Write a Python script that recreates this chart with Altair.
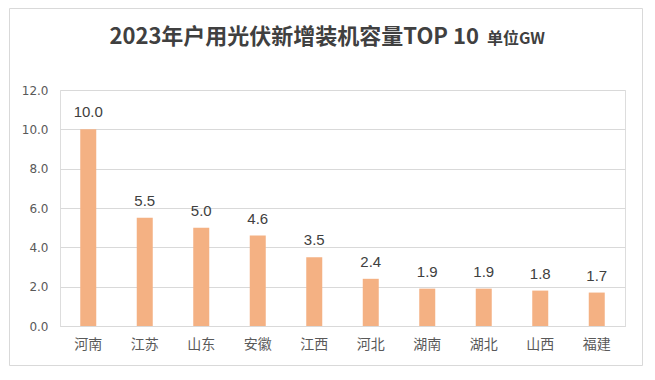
import altair as alt
import pandas as pd

provinces = ["河南", "江苏", "山东", "安徽", "江西", "河北", "湖南", "湖北", "山西", "福建"]
values = [10.0, 5.5, 5.0, 4.6, 3.5, 2.4, 1.9, 1.9, 1.8, 1.7]
y_ticks = [0, 2, 4, 6, 8, 10, 12]
title_main = "2023年户用光伏新增装机容量TOP 10"
title_unit = "单位GW"

df = pd.DataFrame({"province": provinces, "value": values})

W, H = 565, 236
FONT = "Noto Sans CJK SC"

x = alt.X("province:N", sort=provinces,
          scale=alt.Scale(paddingInner=0, paddingOuter=0),
          axis=alt.Axis(title=None, labelAngle=0, labelFont=FONT, labelFontSize=14,
                        labelColor="#595959", ticks=False, domain=True,
                        domainColor="#d9d9d9", labelPadding=11))
y = alt.Y("value:Q", scale=alt.Scale(domain=[0, 12]),
          axis=alt.Axis(title=None, values=y_ticks, format=".1f", ticks=False,
                        domain=False, grid=True, gridColor="#d9d9d9",
                        labelFont="DejaVu Sans", labelOverlap=False, labelFlush=False,
                        labelFontSize=12, labelColor="#595959", labelPadding=12))

base = alt.Chart(df)
bars = base.mark_bar(color="#F4B183", size=16).encode(x=x, y=y)
labels = base.mark_text(font="Liberation Sans", fontSize=15, color="#404040",
                        baseline="bottom", dy=-9).encode(
    x=x, y=y, text=alt.Text("value:Q", format=".1f"))

tdf = pd.DataFrame({"t1": [title_main], "t2": [title_unit]})
t1 = alt.Chart(tdf).mark_text(font=FONT, fontSize=22, fontWeight="bold", color="#404040",
                              align="right", baseline="middle").encode(
    x=alt.value(419), y=alt.value(-53), text="t1:N")
t2 = alt.Chart(tdf).mark_text(font=FONT, fontSize=16, fontWeight="bold", color="#404040",
                              align="left", baseline="middle").encode(
    x=alt.value(427), y=alt.value(-51), text="t2:N")
frame = alt.Chart(tdf).mark_rect(fill=None, stroke="#d9d9d9", strokeWidth=1).encode(
    x=alt.value(-50.5), x2=alt.value(582.5), y=alt.value(-81.5), y2=alt.value(275.5))

chart = alt.layer(frame, bars, labels, t1, t2).properties(
    width=W, height=H,
    autosize=alt.AutoSizeParams(type="none"),
    padding={"left": 52, "top": 82, "right": 18, "bottom": 40},
).configure_view(stroke=None).configure(background="white")

chart.save("out.html", embed_options={"renderer": "svg", "actions": False})
